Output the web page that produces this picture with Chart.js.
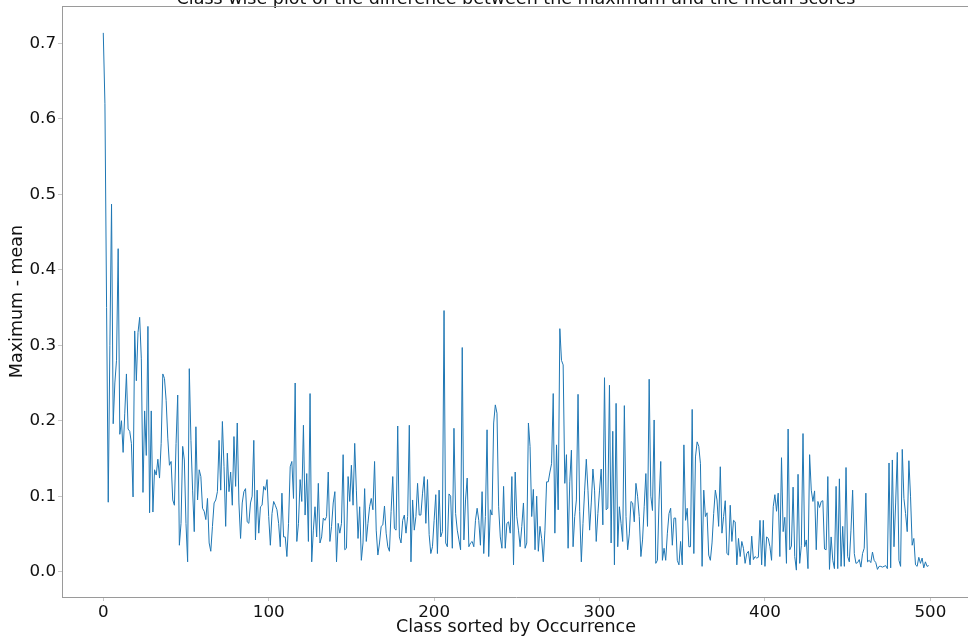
<!DOCTYPE html>
<html><head><meta charset="utf-8">
<script src="https://cdn.jsdelivr.net/npm/chart.js@4.4.1/dist/chart.umd.min.js"></script>
<style>
html,body{margin:0;padding:0;overflow:hidden;background:#fff;width:968px;height:637px}
#wrap{position:absolute;left:0;top:-20px;width:980px;height:660px}
</style>
</head><body>
<div id="wrap"><canvas id="c" width="980" height="660"></canvas></div>
<script>
const titleText = "Class wise plot of the difference between the maximum and the mean scores";
const xAxisLabel = "Class sorted by Occurrence";
const yAxisLabel = "Maximum - mean";
const xTickValues = [0, 100, 200, 300, 400, 500];
const yTickValues = [0.0, 0.1, 0.2, 0.3, 0.4, 0.5, 0.6, 0.7];

// Maximum - mean per class (classes sorted by occurrence)
const classes0to37 = [.714,.62,.35,.092,.30,.487,.196,.25,.28,.428,
  .182,.200,.158,.21,.262,.189,.186,.170,.099,.319,
  .253,.317,.337,.282,.105,.213,.154,.325,.078,.213,
  .079,.135,.128,.149,.124,.17,.262,.256];
const classes38to107 = [.227,.177,.141,.146,.095,.088,.17,.234,.035,.064,
  .166,.148,.064,.013,.269,.174,.108,.053,.192,.095,
  .135,.126,.084,.080,.069,.097,.038,.027,.060,.091,
  .095,.106,.174,.108,.199,.139,.060,.157,.106,.132,
  .088,.179,.113,.197,.091,.044,.091,.106,.110,.066,
  .064,.091,.100,.174,.042,.108,.051,.086,.088,.113,
  .108,.122,.073,.035,.077,.093,.088,.082,.064,.033];
const classes108to178 = [.104,.046,.046,.020,.064,.139,.146,.097,.250,.040,
  .064,.122,.093,.194,.075,.130,.040,.236,.013,.055,
  .086,.046,.117,.038,.046,.071,.068,.073,.132,.040,
  .060,.091,.106,.013,.064,.051,.064,.155,.029,.031,
  .126,.093,.141,.088,.170,.108,.044,.086,.015,.038,
  .110,.040,.064,.086,.097,.082,.146,.055,.022,.038,
  .060,.062,.087,.051,.033,.027,.08,.126,.057,.055,
  .193];
const classes179to247 = [.046,.038,.068,.075,.051,.073,.194,.013,.095,.055,
  .073,.117,.075,.075,.104,.126,.064,.122,.049,.024,
  .033,.068,.102,.024,.108,.046,.053,.346,.038,.033,
  .103,.100,.031,.190,.077,.055,.042,.029,.297,.042,
  .095,.124,.033,.038,.040,.033,.068,.084,.068,.035,
  .106,.024,.073,.188,.020,.082,.075,.197,.221,.210,
  .086,.046,.031,.113,.031,.064,.066,.051,.126];
const classes248to317 = [.009,.132,.073,.055,.033,.060,.091,.031,.038,.197,
  .166,.073,.109,.029,.100,.027,.060,.044,.013,.055,
  .119,.119,.132,.143,.236,.051,.168,.082,.322,.280,
  .274,.117,.155,.031,.119,.161,.033,.073,.095,.235,
  .080,.013,.064,.108,.149,.108,.055,.091,.136,.108,
  .040,.077,.108,.136,.062,.257,.082,.084,.247,.038,
  .186,.009,.223,.033,.086,.064,.040,.220,.073,.029];
const classes318to388 = [.05,.093,.091,.066,.117,.100,.073,.020,.042,.086,
  .130,.060,.255,.100,.081,.201,.011,.015,.095,.146,
  .015,.031,.015,.051,.077,.084,.035,.071,.071,.015,
  .009,.040,.009,.168,.068,.084,.033,.033,.215,.024,
  .152,.172,.166,.143,.007,.108,.073,.078,.022,.015,
  .038,.077,.108,.095,.060,.139,.051,.073,.094,.024,
  .022,.088,.040,.068,.066,.009,.044,.020,.040,.031,
  .011];
const classes389to452 = [.024,.027,.009,.047,.016,.020,.018,.019,.068,.009,
  .068,.007,.046,.044,.033,.015,.086,.102,.080,.104,
  .020,.151,.053,.072,.011,.189,.029,.034,.112,.020,
  .002,.129,.011,.035,.183,.033,.042,.004,.155,.108,
  .093,.107,.029,.093,.085,.093,.094,.030,.029,.126,
  .003,.046,.015,.004,.113,.004,.123,.007,.060,.007,
  .138,.020,.013,.055];
const classes453to499 = [.108,.024,.011,.012,.016,.006,.024,.031,.104,.013,
  .015,.012,.026,.015,.012,.003,.007,.007,.006,.007,
  .008,.004,.144,.005,.148,.033,.091,.158,.015,.007,
  .162,.097,.077,.053,.147,.100,.035,.044,.009,.007,
  .019,.011,.018,.005,.013,.007,.008];

const maxMinusMean = [].concat(classes0to37, classes38to107, classes108to178,
  classes179to247, classes248to317, classes318to388, classes389to452, classes453to499);
const classIndex = maxMinusMean.map((_, i) => i);

// matplotlib-like autoscale margins (5%)
const yLo = Math.min(...maxMinusMean), yHi = Math.max(...maxMinusMean);
const yPad = (yHi - yLo) * 0.05;
const xLo = classIndex[0], xHi = classIndex[classIndex.length - 1];
const xPad = (xHi - xLo) * 0.05;

const TICK_FONT = {family: "'DejaVu Sans', sans-serif", size: 16.7, weight: 'normal'};
const LABEL_FONT = {family: "'DejaVu Sans', sans-serif", size: 17.5, weight: 'normal'};
const TXT = '#111';
const SPINE = '#9a9a9a';

const framePlugin = {
  id: 'frame',
  afterDraw(chart) {
    const {ctx, chartArea: a} = chart;
    ctx.save();
    ctx.strokeStyle = SPINE;
    ctx.lineWidth = 1;
    ctx.beginPath();
    ctx.moveTo(Math.round(a.left) + 0.5, Math.round(a.top) + 0.5);
    ctx.lineTo(Math.round(a.right) + 0.5, Math.round(a.top) + 0.5);
    ctx.lineTo(Math.round(a.right) + 0.5, Math.round(a.bottom) + 0.5);
    ctx.stroke();
    ctx.restore();
  }
};

new Chart(document.getElementById('c'), {
  type: 'line',
  data: {
    datasets: [{
      data: classIndex.map((x, i) => ({x: x, y: maxMinusMean[i]})),
      borderColor: '#1f77b4',
      borderWidth: 1.0,
      pointRadius: 0,
      tension: 0,
      fill: false
    }]
  },
  options: {
    responsive: false,
    animation: false,
    devicePixelRatio: 1,
    layout: {padding: {left: 0, right: 10, top: 0, bottom: 0}},
    plugins: {
      legend: {display: false},
      tooltip: {enabled: false},
      title: {
        display: true, text: titleText, fullSize: false,
        font: LABEL_FONT, color: TXT,
        padding: {top: 9, bottom: -4}
      }
    },
    scales: {
      x: {
        type: 'linear',
        min: xLo - xPad, max: xHi + xPad,
        afterBuildTicks: s => { s.ticks = xTickValues.map(v => ({value: v})); },
        afterFit: s => { s.height = 43; },
        grid: {display: true, drawOnChartArea: false, drawTicks: true, tickLength: 4, color: '#c8c8c8'},
        border: {display: true, color: SPINE, width: 1},
        ticks: {font: TICK_FONT, color: TXT, padding: 2, maxRotation: 0, autoSkip: false,
                callback: v => String(Math.round(v))},
        title: {display: true, text: xAxisLabel, font: LABEL_FONT, color: TXT, padding: {top: 0, bottom: 2}}
      },
      y: {
        type: 'linear',
        min: yLo - yPad, max: yHi + yPad,
        afterBuildTicks: s => { s.ticks = yTickValues.map(v => ({value: v})); },
        afterFit: s => { s.width = 62; },
        grid: {display: true, drawOnChartArea: false, drawTicks: true, tickLength: 4, color: '#c8c8c8'},
        border: {display: true, color: SPINE, width: 1},
        ticks: {font: TICK_FONT, color: TXT, padding: 2, autoSkip: false,
                callback: v => Number(v).toFixed(1)},
        title: {display: true, text: yAxisLabel, font: LABEL_FONT, color: TXT, padding: {top: 7, bottom: 0}}
      }
    }
  },
  plugins: [framePlugin]
});
</script>
</body></html>
